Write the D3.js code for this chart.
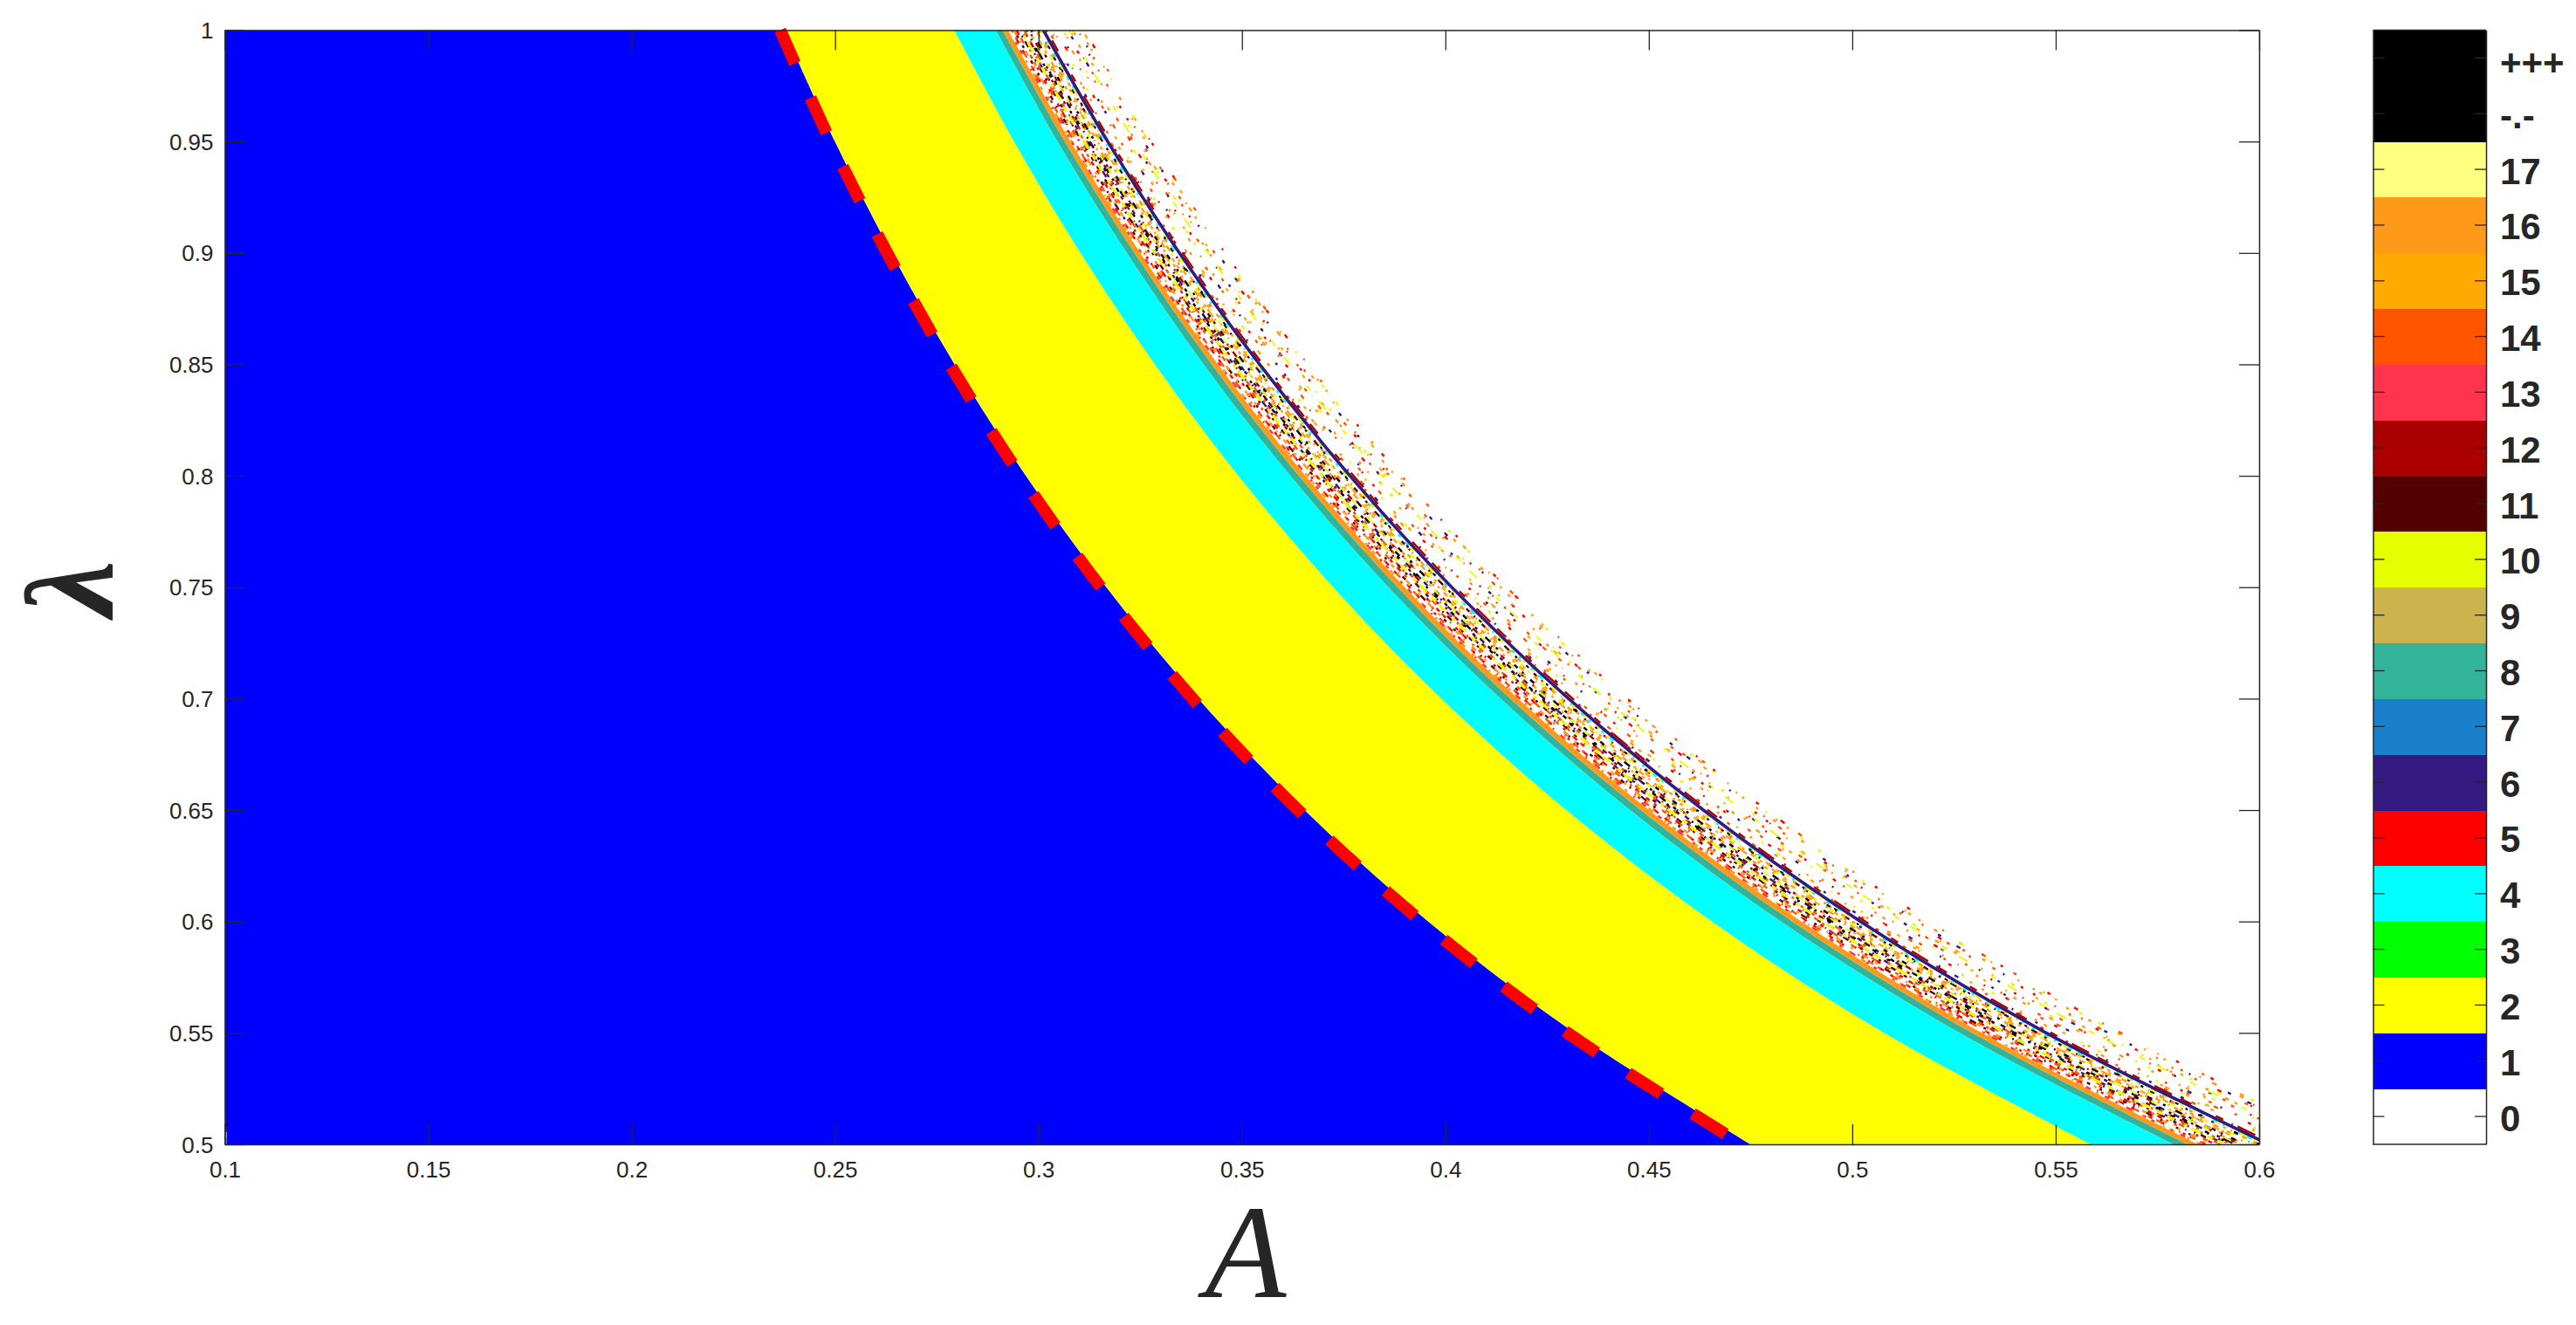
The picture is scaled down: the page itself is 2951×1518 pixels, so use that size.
<!DOCTYPE html>
<html><head><meta charset="utf-8">
<script src="https://cdn.jsdelivr.net/npm/d3@7/dist/d3.min.js"></script>
<style>
html,body{margin:0;padding:0;background:#fff;overflow:hidden}
svg{display:block}
text{fill:#262626;font-family:"Liberation Sans",Arial,sans-serif}
</style></head><body><svg id="c" width="2951" height="1518"></svg>
<script>
// ---- data ----
const lambdaRows   = [0.5, 0.55, 0.6, 0.65, 0.7, 0.75, 0.8, 0.85, 0.9, 0.95, 1.0];
const edgeBlue     = [0.475, 0.4318, 0.3958, 0.3654, 0.3393, 0.3167, 0.2969, 0.2794, 0.2639, 0.25, 0.2375];
const edgeYellow   = [0.5586, 0.5078, 0.4655, 0.4297, 0.399, 0.3724, 0.3491, 0.3286, 0.3103, 0.294, 0.2793];
const edgeCyan     = [0.579, 0.5264, 0.4825, 0.4454, 0.4136, 0.386, 0.3619, 0.3406, 0.3217, 0.3047, 0.2895];
const edgeTeal     = [0.5824, 0.5295, 0.4853, 0.448, 0.416, 0.3883, 0.364, 0.3426, 0.3236, 0.3065, 0.2912];
const edgeOrange   = [0.585, 0.5318, 0.4875, 0.45, 0.4179, 0.39, 0.3656, 0.3441, 0.325, 0.3079, 0.2925];
const edgeMain     = [0.602, 0.5473, 0.5017, 0.4631, 0.43, 0.4013, 0.3763, 0.3541, 0.3344, 0.3168, 0.301];
const redBoundary  = [0.473, 0.43, 0.3942, 0.3638, 0.3379, 0.3153, 0.2956, 0.2782, 0.2628, 0.2489, 0.2365];
const strandK = [0.2928,0.2934,0.294,0.2946,0.2952,0.2958,0.2964,0.297,0.2976,0.2982,0.2988,0.2994,0.3,0.3005,
                 0.3018,0.3024,0.303,0.3036,0.3042,0.3048,0.3054,0.306,0.3066,0.3072,0.3078,0.3084,0.309,0.3096,0.3102,0.3108,0.3113];
const denseLevels = [16,14,12,16,11,15,13,5,14,18,16,4,12,14,11,6,15,10,14,5];
const thinLevels  = [16,5,14,10,18,15,4,16,13,7,14,12,10,15,18,6,16,5,14,10];
const xTickVals = [0.1,0.15,0.2,0.25,0.3,0.35,0.4,0.45,0.5,0.55,0.6];
const xTickText = ["0.1","0.15","0.2","0.25","0.3","0.35","0.4","0.45","0.5","0.55","0.6"];
const yTickVals = [0.5,0.55,0.6,0.65,0.7,0.75,0.8,0.85,0.9,0.95,1];
const yTickText = ["0.5","0.55","0.6","0.65","0.7","0.75","0.8","0.85","0.9","0.95","1"];
const barLabels = ["0","1","2","3","4","5","6","7","8","9","10","11","12","13","14","15","16","17","-.-","+++"];
const barColours = ["#ffffff","#0000ff","#ffff00","#00ff00","#00ffff","#ff0000","#331a80","#1a80cc","#33b399","#ccb34d","#e6ff00","#550000","#aa0000","#ff334d","#ff5500","#ffaa00","#ff991a","#ffff80","#000000","#000000"];

// ---- layout ----
const L=257.5,R=2588,T=34.5,B=1311, BL=2718.5,BR=2848;
const ink="#262626";
const x=d3.scaleLinear().domain([0.1,0.6]).range([L,R]);
const y=d3.scaleLinear().domain([0.5,1]).range([B,T]);
const svg=d3.select("#c");
svg.append("defs").append("clipPath").attr("id","plot").append("rect")
  .attr("x",L).attr("y",T).attr("width",R-L).attr("height",B-T);
const plot=svg.append("g").attr("clip-path","url(#plot)");

const rows=lambdaRows.map((l,i)=>i);
const band=(a,b)=>d3.area().curve(d3.curveCatmullRom)
  .y(i=>y(lambdaRows[i])).x0(i=>a(i)).x1(i=>b(i))(rows);
const line=f=>d3.line().curve(d3.curveCatmullRom).y(i=>y(lambdaRows[i])).x(i=>f(i))(rows);
const at=e=>i=>x(e[i]);

plot.append("path").attr("d",band(()=>x(0.1),at(edgeBlue))).attr("fill",barColours[1]);
plot.append("path").attr("d",band(at(edgeBlue),at(edgeYellow))).attr("fill",barColours[2]);
plot.append("path").attr("d",band(at(edgeYellow),at(edgeCyan))).attr("fill",barColours[4]);
plot.append("path").attr("d",band(at(edgeCyan),at(edgeTeal))).attr("fill",barColours[8]);
plot.append("path").attr("d",band(at(edgeTeal),at(edgeOrange))).attr("fill",barColours[16]);

// speckled fringe: thin dashed strands running along the main curve
const dense=["5 9 3 16 7 6 2 23 4 11 6 14 3 8","3 14 6 11 2 7 5 26 3 9 8 13","6 10 2 21 4 7 3 15 7 12 2 9 5 18","4 19 4 9 6 13 2 6 3 24 5 10","5 13 3 12 2 29 6 8 4 16 3 7","2 11 6 18 3 6 5 14 2 22 7 9","4 17 3 10 8 15 2 8 5 27 3 12"];
const thin=["3 29 2 71 5 19 2 113 4 37 3 53 2 89","4 59 3 23 2 97 4 41 3 127 5 31","2 43 4 83 3 17 2 139 4 61 3 27","3 67 2 37 5 103 2 47 4 79 3 13","4 47 2 73 3 29 4 131 2 57 5 21"];
const strand=k=>i=>x(edgeMain[i]*k/0.301);
const strands=plot.append("g").attr("fill","none");
strandK.forEach((k,i)=>{
  const inner=k<0.3012, n=2;
  for(let j=0;j<n;j++){
    const lv=inner?denseLevels[(i*7+j*6)%denseLevels.length]:thinLevels[(i*5+j*7)%thinLevels.length];
    const d=inner?dense[(i*3+j*2)%dense.length]:thin[(i*2+j)%thin.length];
    strands.append("path").attr("d",line(strand(k)))
      .attr("stroke",barColours[lv]).attr("stroke-width",2.4)
      .attr("stroke-dasharray",d).attr("stroke-dashoffset",i*37+j*101);
  }
});
// named streaks
const streak=(k,lv,w,d,o)=>strands.append("path").attr("d",line(strand(k))).attr("stroke",barColours[lv])
  .attr("stroke-width",w).attr("stroke-dasharray",d||null).attr("stroke-dashoffset",o||0);
streak(0.2957,10,3,"9 6 6 9 12 5 4 13");
streak(0.2966,18,2.4,"4 11 3 16 5 23",5);
streak(0.2975,10,2,"6 13 8 20",9);
streak(0.3075,10,2,"12 16 7 30");
streak(0.3012,6,3.6);
streak(0.3019,12,2.4,"14 11 22 19 9 31");
streak(0.3002,18,2,"3 27 4 41");

// stray column in the lower-left corner
const cornerLevels=[18,12,9,8];
const cornerRanges=[[0.5093,0.5078],[0.5078,0.5055],[0.5055,0.5025],[0.5025,0.5]];
cornerLevels.forEach((lv,i)=>plot.append("line")
  .attr("x1",x(0.1003)).attr("x2",x(0.1003))
  .attr("y1",y(cornerRanges[i][0])).attr("y2",y(cornerRanges[i][1]))
  .attr("stroke",barColours[lv]).attr("stroke-width",2));

// dashed red boundary (overshoots the top edge a little, as in the reference)
svg.append("path").attr("d",
  d3.line().curve(d3.curveCatmullRom).y(i=>y(lambdaRows[i])).x(i=>x(redBoundary[i]))(rows.slice().reverse()))
  .attr("fill","none").attr("stroke","#ff0000").attr("stroke-width",14)
  .attr("stroke-dasharray","44 43").attr("stroke-dashoffset",2);

// axes
const styleAxis=g=>{g.selectAll(".domain").attr("stroke",ink).attr("stroke-width",1.5);
  g.selectAll(".tick line").attr("stroke",ink).attr("stroke-width",1.3);
  g.selectAll("text").attr("font-size",26).style("font-family",'"Liberation Sans"').attr("fill",ink);};
const fmt=(vals,txt)=>v=>txt[vals.findIndex(u=>Math.abs(u-v)<1e-9)];
svg.append("g").attr("transform",`translate(0,${B})`)
  .call(d3.axisBottom(x).tickValues(xTickVals).tickFormat(fmt(xTickVals,xTickText)).tickSizeInner(-23).tickSizeOuter(0).tickPadding(20))
  .call(styleAxis).call(g=>g.selectAll("text").attr("y",38).attr("dy",0));
svg.append("g").attr("transform",`translate(0,${T})`)
  .call(d3.axisTop(x).tickValues(xTickVals).tickFormat("").tickSizeInner(-23).tickSizeOuter(0)).call(styleAxis);
svg.append("g").attr("transform",`translate(${L},0)`)
  .call(d3.axisLeft(y).tickValues(yTickVals).tickFormat(fmt(yTickVals,yTickText)).tickSizeInner(-23).tickSizeOuter(0))
  .call(styleAxis).call(g=>g.selectAll("text").attr("x",-13).attr("dy",0).attr("y",9));
svg.append("g").attr("transform",`translate(${R},0)`)
  .call(d3.axisRight(y).tickValues(yTickVals).tickFormat("").tickSizeInner(-23).tickSizeOuter(0)).call(styleAxis);

// axis titles
svg.append("text").text("A").attr("x",1427).attr("y",1486).attr("text-anchor","middle")
  .style("font-family",'"Liberation Serif"').style("font-style","italic").attr("font-size",152);
svg.append("text").text("λ").attr("text-anchor","middle")
  .attr("transform","translate(129,674) rotate(-90)")
  .style("font-family",'"Liberation Serif"').style("font-style","italic").style("font-weight","bold").attr("font-size",144);

// colour bar
const yb=d3.scaleBand().domain(barLabels).range([B,T]).padding(0);
const bar=svg.append("g").attr("shape-rendering","crispEdges");
bar.selectAll("rect").data(barLabels).join("rect")
  .attr("x",BL).attr("width",BR-BL).attr("y",d=>yb(d)).attr("height",yb.bandwidth()+0.5)
  .attr("fill",(d,i)=>barColours[i]);
const barAxis=d3.scaleBand().domain(barLabels).range([B,T]);
svg.append("g").attr("transform",`translate(${BR},0)`)
  .call(d3.axisRight(barAxis).tickSizeInner(-13).tickSizeOuter(0).tickPadding(16))
  .call(g=>{g.selectAll(".domain").attr("stroke",ink).attr("stroke-width",1.5);
    g.selectAll(".tick line").attr("stroke",ink).attr("stroke-width",1.3);
    g.selectAll("text").attr("x",16).attr("dy",0).attr("y",d=>d==="+++"?20:16.5).attr("font-size",42).attr("font-weight","bold")
      .style("font-family",'"Liberation Sans"').attr("fill",ink);});
svg.append("g").attr("transform",`translate(${BL},0)`)
  .call(d3.axisLeft(barAxis).tickSizeInner(-13).tickSizeOuter(0).tickFormat(""))
  .call(g=>{g.selectAll(".domain").attr("stroke",ink).attr("stroke-width",1.5);
    g.selectAll(".tick line").attr("stroke",ink).attr("stroke-width",1.3);});
svg.append("line").attr("x1",BL).attr("x2",BR).attr("y1",T).attr("y2",T).attr("stroke",ink).attr("stroke-width",1.5);
svg.append("line").attr("x1",BL).attr("x2",BR).attr("y1",B).attr("y2",B).attr("stroke",ink).attr("stroke-width",1.5);
</script></body></html>
